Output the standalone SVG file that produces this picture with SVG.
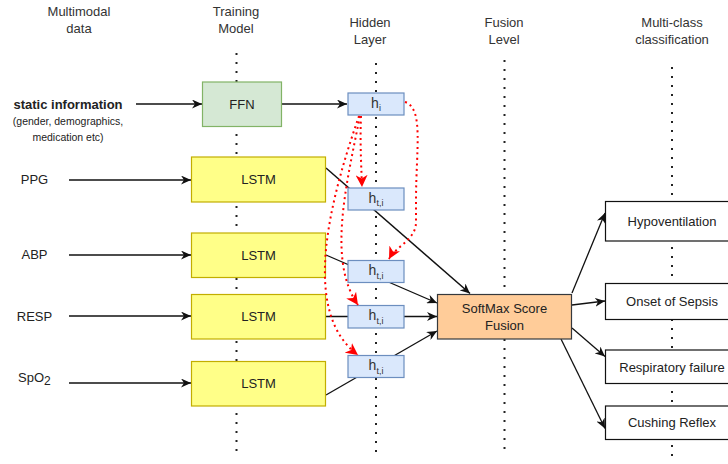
<svg xmlns="http://www.w3.org/2000/svg" width="728" height="464" viewBox="0 0 728 464">
<defs>
<style>
text{font-family:"Liberation Sans",Arial,sans-serif;font-size:13px;fill:#222;}
.hdr{fill:#333;text-anchor:middle;}
.c{text-anchor:middle;}
.h{font-size:14px;fill:#333;}
.vdot{stroke:#222;stroke-width:2;stroke-dasharray:2 7;fill:none;}
.edge{stroke:#111;stroke-width:1.3;fill:none;marker-end:url(#arr);}
.redge{stroke:#ff0000;stroke-width:2;stroke-dasharray:2 3.5;fill:none;marker-end:url(#rarr);}
.ffn{fill:#d5e8d4;stroke:#82b366;stroke-width:1.2;}
.lstm{fill:#ffff88;stroke:#c2ae00;stroke-width:1.2;}
.hid{fill:#dae8fc;stroke:#6c8ebf;stroke-width:1.2;}
.sm{fill:#ffcc99;stroke:#36393d;stroke-width:1.2;}
.cls{fill:#ffffff;stroke:#111;stroke-width:1.2;}
</style>
<marker id="arr" markerUnits="userSpaceOnUse" markerWidth="11" markerHeight="9" refX="10" refY="4.5" orient="auto">
<path d="M0,0 L10,4.5 L0,9 L3,4.5 z" fill="#111"/>
</marker>
<marker id="rarr" markerUnits="userSpaceOnUse" markerWidth="13" markerHeight="12" refX="12" refY="6" orient="auto">
<path d="M0,0 L12,6 L0,12 L3.5,6 z" fill="#ff0000"/>
</marker>
</defs>

<g id="headers">
<text class="hdr" x="79" y="16">Multimodal</text>
<text class="hdr" x="79" y="33">data</text>
<text class="hdr" x="236" y="16">Training</text>
<text class="hdr" x="236" y="33">Model</text>
<text class="hdr" x="370" y="27">Hidden</text>
<text class="hdr" x="370" y="44">Layer</text>
<text class="hdr" x="504" y="27">Fusion</text>
<text class="hdr" x="504" y="44">Level</text>
<text class="hdr" x="672" y="27">Multi-class</text>
<text class="hdr" x="672" y="44">classification</text>
</g>

<g id="guides">
<line class="vdot" x1="236.5" y1="53" x2="236.5" y2="452"/>
<line class="vdot" x1="376" y1="63" x2="376" y2="452"/>
<line class="vdot" x1="504.5" y1="60" x2="504.5" y2="452"/>
<line class="vdot" x1="672" y1="67" x2="672" y2="462"/>
</g>

<g id="inputs">
<text x="68" y="109" class="c" style="font-weight:bold">static information</text>
<text x="68" y="125" class="c" style="font-size:10.5px">(gender, demographics,</text>
<text x="68" y="141" class="c" style="font-size:10.5px">medication etc)</text>
<text x="34.5" y="184" class="c">PPG</text>
<text x="34.5" y="259" class="c">ABP</text>
<text x="34.5" y="321" class="c">RESP</text>
<text x="18" y="382">SpO<tspan dy="3" font-size="12">2</tspan></text>
</g>

<g id="connectors">
<line class="edge" x1="136" y1="104" x2="202" y2="104"/>
<line class="edge" x1="69" y1="180" x2="191" y2="180"/>
<line class="edge" x1="69" y1="255" x2="191" y2="255"/>
<line class="edge" x1="69" y1="316" x2="191" y2="316"/>
<line class="edge" x1="69" y1="383" x2="191" y2="383"/>
<line class="edge" x1="282" y1="104" x2="347" y2="104"/>
<line class="edge" x1="326" y1="168" x2="470" y2="293.5" style="stroke-width:1.5"/>
<line class="edge" x1="326" y1="255" x2="437" y2="303"/>
<line class="edge" x1="326" y1="316.5" x2="437" y2="316.5"/>
<line class="edge" x1="326" y1="395" x2="437" y2="331"/>
<line class="edge" x1="572" y1="293" x2="605" y2="213"/>
<line class="edge" x1="572" y1="305" x2="605" y2="301"/>
<line class="edge" x1="572" y1="328" x2="605" y2="356.5"/>
<line class="edge" x1="561" y1="339" x2="605" y2="428.5"/>
</g>

<g id="ffn"><rect class="ffn" x="202.5" y="82" width="79" height="44.5"/><text class="c" x="242" y="108.5">FFN</text></g>
<g id="lstm-ppg"><rect class="lstm" x="191.5" y="157" width="134" height="45"/><text class="c" x="258.5" y="184">LSTM</text></g>
<g id="lstm-abp"><rect class="lstm" x="191.5" y="233" width="134" height="44.5"/><text class="c" x="258.5" y="259.5">LSTM</text></g>
<g id="lstm-resp"><rect class="lstm" x="191.5" y="294.5" width="134" height="44.5"/><text class="c" x="258.5" y="321">LSTM</text></g>
<g id="lstm-spo2"><rect class="lstm" x="191.5" y="361.5" width="134" height="44.5"/><text class="c" x="258.5" y="388">LSTM</text></g>

<g id="h-i"><rect class="hid" x="348" y="93" width="56" height="22"/><text class="c h" x="376" y="107.5">h<tspan dy="3.5" font-size="9">i</tspan></text></g>
<g id="h-ti-1"><rect class="hid" x="348" y="188" width="56" height="22"/><text class="c h" x="376" y="202.5">h<tspan dy="3.5" font-size="9">t,i</tspan></text></g>
<g id="h-ti-2"><rect class="hid" x="348" y="260.5" width="56" height="22"/><text class="c h" x="376" y="275">h<tspan dy="3.5" font-size="9">t,i</tspan></text></g>
<g id="h-ti-3"><rect class="hid" x="348" y="305.5" width="56" height="22.5"/><text class="c h" x="376" y="320">h<tspan dy="3.5" font-size="9">t,i</tspan></text></g>
<g id="h-ti-4"><rect class="hid" x="348" y="355.5" width="56" height="22"/><text class="c h" x="376" y="370">h<tspan dy="3.5" font-size="9">t,i</tspan></text></g>

<g id="red-links">
<path class="redge" d="M361,116 C360,140 361,160 362,187"/>
<path class="redge" d="M360,116 C345,190 328,262 358,305"/>
<path class="redge" d="M359,116 C330,200 300,312 358,355"/>
<path class="redge" d="M405,102 C424,108 416,150 416,200 L416,222 C416,240 396,246 389,259"/>
</g>

<g id="softmax"><rect class="sm" x="437.5" y="294.5" width="134" height="44.5"/><text class="c" x="504.5" y="313">SoftMax Score</text><text class="c" x="504.5" y="330">Fusion</text></g>

<g id="hypoventilation"><rect class="cls" x="605.5" y="201.5" width="134" height="39.5"/><text class="c" x="672" y="226">Hypoventilation</text></g>
<g id="sepsis"><rect class="cls" x="605.5" y="283.5" width="134" height="36"/><text class="c" x="672" y="306">Onset of Sepsis</text></g>
<g id="respiratory"><rect class="cls" x="605.5" y="350" width="134" height="33.5"/><text class="c" x="672" y="371.5">Respiratory failure</text></g>
<g id="cushing"><rect class="cls" x="605.5" y="406" width="134" height="33.5"/><text class="c" x="672" y="427">Cushing Reflex</text></g>
</svg>
